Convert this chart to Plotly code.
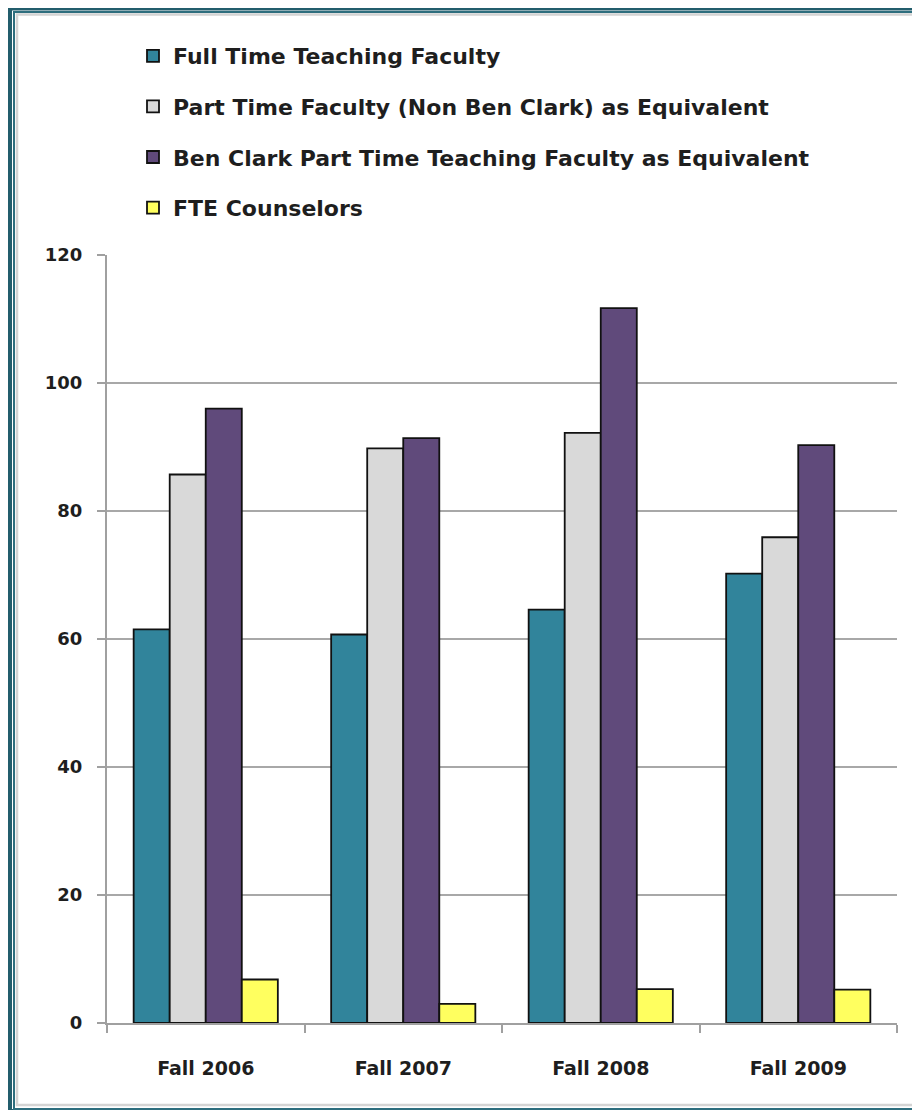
import plotly.graph_objects as go

categories = ["Fall 2006", "Fall 2007", "Fall 2008", "Fall 2009"]
full_time = [61.5, 60.7, 64.6, 70.2]
part_time_non_bc = [85.7, 89.8, 92.2, 75.9]
ben_clark_part_time = [96.0, 91.4, 111.7, 90.3]
fte_counselors = [6.8, 3.0, 5.3, 5.2]

series_names = [
    "Full Time Teaching Faculty",
    "Part Time Faculty (Non Ben Clark) as Equivalent",
    "Ben Clark Part Time Teaching Faculty as Equivalent",
    "FTE Counselors",
]
series_values = [full_time, part_time_non_bc, ben_clark_part_time, fte_counselors]
colors = ["#31849B", "#D9D9D9", "#604A7B", "#FFFF5F"]

# page body adds an 8px offset; figure coordinates below are screen - 8
W, H = 920, 1110
L, T = 99, 247
PW, PH = 790, 768
R, B = W - L - PW, H - T - PH

def px(x):
    return (x - L) / PW

def py(y):
    return (H - B - y) / PH

FONT = "DejaVu Sans"
TXT = "#1e1e1e"

fig = go.Figure()
for i, (name, vals, col) in enumerate(zip(series_names, series_values, colors)):
    fig.add_trace(go.Bar(
        x=categories, y=vals, name=name,
        marker=dict(color=col, line=dict(color="#111111", width=1.8)),
        legendgroup=f"g{i}",
    ))

NONE = "rgba(0,0,0,0)"
shapes = [
    # outer dark frame
    dict(type="rect", xref="paper", yref="paper",
         x0=px(1), x1=px(960), y0=py(1104), y1=py(-0.5),
         line=dict(color="#235D6C", width=6), fillcolor=NONE, layer="above"),
    # inner thin teal line
    dict(type="rect", xref="paper", yref="paper",
         x0=px(6), x1=px(950), y0=py(1101), y1=py(4),
         line=dict(color="#2E6E7E", width=2), fillcolor=NONE, layer="above"),
    # light shadow line
    dict(type="rect", xref="paper", yref="paper",
         x0=px(9), x1=px(945), y0=py(1097), y1=py(6.5),
         line=dict(color="#D4D4D4", width=2.5), fillcolor=NONE, layer="above"),
]

fig.update_layout(
    width=W, height=H,
    margin=dict(l=L, r=R, t=T, b=B, autoexpand=False),
    paper_bgcolor="white", plot_bgcolor="white",
    barmode="group", bargap=0.27, bargroupgap=0,
    font=dict(family=FONT, color=TXT, size=19, weight=700),
    showlegend=True,
    legend=dict(
        x=px(125), y=py(27), xanchor="left", yanchor="top",
        font=dict(family=FONT, size=22, color=TXT, weight=700),
        tracegroupgap=19, bgcolor=NONE,
        traceorder="grouped",
    ),
    xaxis=dict(
        type="category", showgrid=False,
        showline=True, linecolor="#A0A0A0", linewidth=2,
        ticks="outside", tickson="boundaries", ticklen=8, tickcolor="#A0A0A0", tickwidth=2,
        tickfont=dict(family=FONT, size=19, color=TXT, weight=700),
        ticklabelstandoff=27,
    ),
    yaxis=dict(
        range=[0, 120], dtick=20, showgrid=True, gridcolor="#A8A8A8", gridwidth=2,
        showline=True, linecolor="#A0A0A0", linewidth=2,
        ticks="outside", ticklen=8, tickcolor="#A0A0A0", tickwidth=2,
        tickfont=dict(family=FONT, size=18, color=TXT, weight=700),
        ticklabelstandoff=11, zeroline=False,
    ),
    shapes=shapes,
)

fig.write_html("out.html")
